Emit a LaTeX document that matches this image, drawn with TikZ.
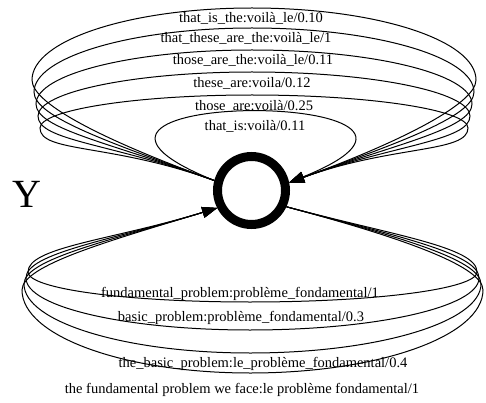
\documentclass[tikz,border=0pt]{standalone}
\usepackage{fontspec}
\setmainfont{Liberation Serif}
\usetikzlibrary{arrows.meta}
\begin{document}
\begin{tikzpicture}[
x=1pt, y=1pt,
ring/.style={
circle,
draw,
line width=9pt,
minimum size=68pt,
inner sep=0pt
},
edgeline/.style={draw, line width=1pt},
arrowline/.style={edgeline, -{Triangle[length=15pt,width=11pt]}},
arclabel/.style={inner sep=0pt, font=\fontsize{14.5}{16}\selectfont},
bigletter/.style={inner sep=0pt, font=\fontsize{40}{44}\selectfont}
]
\useasboundingbox (0,0) rectangle (486,-403);
\node[ring] (state) at (251.5,-190.5) {};
\node[bigletter] (ylabel) at (27,-194) {Y};
\node[arclabel] (thatIsThe) at (251,-18) {that\_is\_the:voilà\_le/0.10};
\node[arclabel] (thatTheseAre) at (246,-38) {that\_these\_are\_the:voilà\_le/1};
\node[arclabel] (thoseAreThe) at (253,-60) {those\_are\_the:voilà\_le/0.11};
\node[arclabel] (theseAre) at (252,-83) {these\_are:voila/0.12};
\node[arclabel] (thoseAre) at (254,-106) {those\_are:voilà/0.25};
\node[arclabel] (thatIs) at (255,-126) {that\_is:voilà/0.11};
\node[arclabel] (fundProblem) at (240,-294) {fundamental\_problem:problème\_fondamental/1};
\node[arclabel] (basicProblem) at (241,-318) {basic\_problem:problème\_fondamental/0.3};
\node[arclabel] (theBasicProblem) at (263,-364) {the\_basic\_problem:le\_problème\_fondamental/0.4};
\node[arclabel] (weFace) at (242,-390) {the fundamental problem we face:le problème fondamental/1};
\draw[arrowline] (state.165) to[out=160,in=270,out distance=110pt,in distance=25pt] (32,-80)
to[out=90,in=180,out distance=40pt,in distance=121pt] (252,-8)
to[out=0,in=90,out distance=124pt,in distance=40pt] (476,-80)
to[out=270,in=20,out distance=25pt,in distance=110pt] (state.12);
\draw[arrowline] (state.165) to[out=160,in=270,out distance=110pt,in distance=25pt] (34,-92)
to[out=90,in=180,out distance=35pt,in distance=120pt] (252,-28)
to[out=0,in=90,out distance=123pt,in distance=35pt] (474,-92)
to[out=270,in=20,out distance=25pt,in distance=110pt] (state.12);
\draw[arrowline] (state.165) to[out=160,in=270,out distance=110pt,in distance=25pt] (36,-104)
to[out=90,in=180,out distance=30pt,in distance=119pt] (252,-50)
to[out=0,in=90,out distance=121pt,in distance=30pt] (472,-104)
to[out=270,in=20,out distance=25pt,in distance=110pt] (state.12);
\draw[arrowline] (state.165) to[out=160,in=270,out distance=110pt,in distance=25pt] (38,-116)
to[out=90,in=180,out distance=24pt,in distance=118pt] (252,-72)
to[out=0,in=90,out distance=120pt,in distance=24pt] (470,-116)
to[out=270,in=20,out distance=25pt,in distance=110pt] (state.12);
\draw[arrowline] (state.165) to[out=160,in=270,out distance=110pt,in distance=25pt] (40,-128)
to[out=90,in=180,out distance=18pt,in distance=117pt] (252,-95)
to[out=0,in=90,out distance=119pt,in distance=18pt] (468,-128)
to[out=270,in=20,out distance=25pt,in distance=110pt] (state.12);
\draw[arrowline] (state.165) to[out=158,in=22,out distance=250pt,in distance=250pt] (state.12);
\draw[arrowline] (state.335) to[out=-15,in=90,out distance=110pt,in distance=25pt] (477,-272)
to[out=270,in=0,out distance=17pt,in distance=125pt] (250,-302)
to[out=180,in=270,out distance=123pt,in distance=17pt] (28,-272)
to[out=90,in=197,out distance=25pt,in distance=110pt] (state.207);
\draw[arrowline] (state.335) to[out=-15,in=90,out distance=110pt,in distance=25pt] (479,-278)
to[out=270,in=0,out distance=29pt,in distance=126pt] (250,-330)
to[out=180,in=270,out distance=124pt,in distance=29pt] (26,-278)
to[out=90,in=197,out distance=25pt,in distance=110pt] (state.207);
\draw[arrowline] (state.335) to[out=-15,in=90,out distance=110pt,in distance=25pt] (481,-284)
to[out=270,in=0,out distance=38pt,in distance=128pt] (250,-353)
to[out=180,in=270,out distance=125pt,in distance=38pt] (24,-284)
to[out=90,in=197,out distance=25pt,in distance=110pt] (state.207);
\draw[arrowline] (state.335) to[out=-15,in=90,out distance=110pt,in distance=25pt] (483,-290)
to[out=270,in=0,out distance=46pt,in distance=129pt] (250,-373)
to[out=180,in=270,out distance=126pt,in distance=46pt] (22,-290)
to[out=90,in=197,out distance=25pt,in distance=110pt] (state.207);
\end{tikzpicture}
\end{document}
